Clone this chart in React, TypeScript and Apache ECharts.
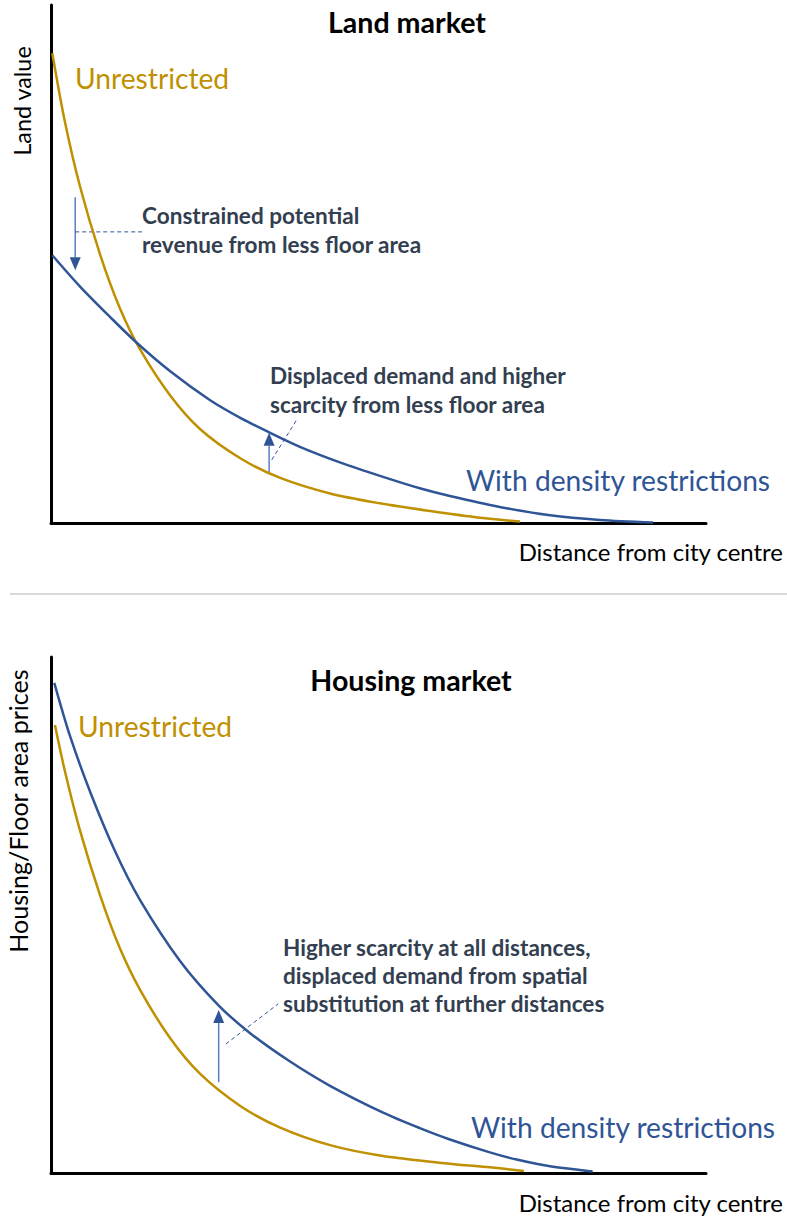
import React, { useEffect, useRef } from 'react';
import * as echarts from 'echarts';

// Distance (0-10) vs value (0-100)
const landUnrestricted: [number, number][] = [
  [0.02, 90.7], [0.21, 77.6], [0.44, 65.1], [0.75, 51.8], [1.05, 41.5], [1.36, 33.5],
  [1.82, 24.6], [2.27, 18.2], [2.89, 12.5], [3.50, 8.7], [4.26, 5.7], [5.02, 3.8],
  [5.79, 2.3], [6.55, 1.0], [7.16, 0.3],
];
const landRestricted: [number, number][] = [
  [0.02, 51.7], [0.44, 45.7], [0.90, 39.8], [1.30, 34.9], [1.82, 29.3], [2.43, 23.7],
  [2.89, 20.3], [3.33, 17.5], [3.80, 14.7], [4.41, 11.7], [5.07, 8.9], [5.63, 6.7],
  [6.09, 5.2], [6.85, 3.1], [7.62, 1.5], [8.38, 0.6], [9.19, 0.1],
];
const housingUnrestricted: [number, number][] = [
  [0.06, 86.8], [0.21, 78.0], [0.44, 66.5], [0.75, 53.8], [1.05, 43.6], [1.36, 35.5],
  [1.82, 26.1], [2.27, 19.3], [2.89, 13.0], [3.50, 8.8], [4.26, 5.4], [5.07, 3.3],
  [6.09, 1.8], [6.70, 1.1], [7.22, 0.4],
];
const housingRestricted: [number, number][] = [
  [0.05, 95.0], [0.29, 84.7], [0.60, 73.8], [0.98, 62.3], [1.36, 52.9], [1.97, 41.1],
  [2.55, 32.6], [3.04, 27.1], [3.65, 21.6], [4.26, 16.9], [5.07, 11.7], [5.63, 8.7],
  [6.09, 6.5], [6.70, 4.0], [7.11, 2.6], [7.62, 1.3], [8.27, 0.3],
];

const titles = ['Land market', 'Housing market'];
const yTitles = ['Land value', 'Housing/Floor area prices'];
const xTitle = 'Distance from city centre';
const seriesNames = ['Unrestricted', 'With density restrictions'];
const notes = [
  ['Constrained potential', 'revenue from less floor area'],
  ['Displaced demand and higher', 'scarcity from less floor area'],
  ['Higher scarcity at all distances,', 'displaced demand from spatial', 'substitution at further distances'],
];

// annotation anchors in data units
const arrows = [
  { grid: 0, x: 0.37, from: 62.9, to: 48.8 },
  { grid: 0, x: 3.33, from: 9.8, to: 17.4 },
  { grid: 1, x: 2.56, from: 17.6, to: 31.6 },
];
const leaders = [
  { grid: 0, a: [0.37, 56.2], b: [1.39, 56.2] },
  { grid: 0, a: [3.37, 12.2], b: [3.76, 20.1] },
  { grid: 1, a: [2.67, 25.0], b: [3.47, 32.8] },
];

const GOLD = '#BF9000';
const BLUE = '#2F5597';
const SHAFT = '#5B7FC0';
const NOTE = '#333F50';
const FONT = 'Lato';

function fit(text: string, weight: string, target: number) {
  const c = document.createElement('canvas').getContext('2d')!;
  c.font = `${weight} 100px ${FONT}`;
  return (100 * target) / c.measureText(text).width;
}

export default function App() {
  const ref = useRef<HTMLDivElement>(null);
  useEffect(() => {
    const chart = echarts.init(ref.current!, null, { renderer: 'svg' });
    const axisLine = { show: true, onZero: false, lineStyle: { color: '#000', width: 3 } };
    const hidden = { axisTick: { show: false }, axisLabel: { show: false }, splitLine: { show: false } };
    const lineSeries = (data: [number, number][], color: string, i: number) => ({
      type: 'line', xAxisIndex: i, yAxisIndex: i, data, smooth: 0.3,
      showSymbol: false, symbol: 'none', lineStyle: { color, width: 2.5 }, silent: true,
    });
    chart.setOption({
      animation: false,
      grid: [
        { left: 51, top: 5, width: 655, height: 518 },
        { left: 51, top: 657, width: 655, height: 516 },
      ],
      xAxis: [0, 1].map((i) => ({ type: 'value', gridIndex: i, min: 0, max: 10, axisLine, ...hidden })),
      yAxis: [0, 1].map((i) => ({ type: 'value', gridIndex: i, min: 0, max: 100, axisLine, ...hidden })),
      series: [
        lineSeries(landUnrestricted, GOLD, 0),
        lineSeries(landRestricted, BLUE, 0),
        lineSeries(housingUnrestricted, GOLD, 1),
        lineSeries(housingRestricted, BLUE, 1),
      ],
    });

    const px = (g: number, pt: number[]) => chart.convertToPixel({ seriesIndex: g * 2 }, pt) as number[];
    const g: any[] = [];

    const titleSize = fit(titles[0], 'bold', 158);
    const xSize = fit(xTitle, 'normal', 265);
    const ySize0 = fit(yTitles[0], 'normal', 110);
    const ySize1 = fit(yTitles[1], 'normal', 284);
    const labSize = fit(seriesNames[1], 'normal', 305);
    const noteSize = fit(notes[2][2], 'bold', 322);

    const text = (t: string, x: number, y: number, o: any = {}) =>
      g.push({
        type: 'text', x, y, rotation: o.rotation || 0, silent: true,
        style: {
          text: t, fill: o.fill || '#000', fontSize: o.size, fontFamily: FONT,
          fontWeight: o.weight || 'normal', textAlign: o.align || 'left', verticalAlign: 'middle',
          lineHeight: o.lineHeight,
        },
      });

    text(titles[0], 407, 22, { size: titleSize, weight: 'bold', align: 'center' });
    text(titles[1], 411, 680, { size: titleSize, weight: 'bold', align: 'center' });
    text(yTitles[0], 22, 101, { size: ySize0, align: 'center', rotation: Math.PI / 2 });
    text(yTitles[1], 18, 811, { size: ySize1, align: 'center', rotation: Math.PI / 2 });
    text(xTitle, 783, 551, { size: xSize, align: 'right' });
    text(xTitle, 783, 1202, { size: xSize, align: 'right' });
    text(seriesNames[0], 75, 78, { size: labSize, fill: GOLD });
    text(seriesNames[0], 78, 726, { size: labSize, fill: GOLD });
    text(seriesNames[1], 466, 480, { size: labSize, fill: BLUE });
    text(seriesNames[1], 471, 1127, { size: labSize, fill: BLUE });
    text(notes[0].join('\n'), 142, 230, { size: noteSize, weight: 'bold', fill: NOTE, lineHeight: 29 });
    text(notes[1].join('\n'), 270, 390, { size: noteSize, weight: 'bold', fill: NOTE, lineHeight: 29 });
    text(notes[2].join('\n'), 283, 975, { size: noteSize, weight: 'bold', fill: NOTE, lineHeight: 28 });

    arrows.forEach((a) => {
      const p0 = px(a.grid, [a.x, a.from]);
      const p1 = px(a.grid, [a.x, a.to]);
      const dir = p1[1] > p0[1] ? 1 : -1;
      const hl = 13;
      g.push({
        type: 'line', silent: true,
        shape: { x1: p0[0], y1: p0[1], x2: p1[0], y2: p1[1] - dir * hl },
        style: { stroke: SHAFT, lineWidth: 1.5 },
      });
      g.push({
        type: 'polygon', silent: true,
        shape: { points: [[p1[0], p1[1]], [p1[0] - 5.5, p1[1] - dir * hl], [p1[0] + 5.5, p1[1] - dir * hl]] },
        style: { fill: BLUE },
      });
    });
    leaders.forEach((l) => {
      const a = px(l.grid, l.a);
      const b = px(l.grid, l.b);
      g.push({
        type: 'line', silent: true,
        shape: { x1: a[0], y1: a[1], x2: b[0], y2: b[1] },
        style: { stroke: BLUE, lineWidth: 1, lineDash: [4, 3] },
      });
    });
    g.push({
      type: 'line', silent: true,
      shape: { x1: 10, y1: 594, x2: 787, y2: 594 },
      style: { stroke: '#D9D9D9', lineWidth: 2 },
    });

    chart.setOption({ graphic: g });
    return () => chart.dispose();
  }, []);
  return <div ref={ref} style={{ position: 'absolute', left: 0, top: 0, width: 787, height: 1221, background: '#fff' }} />;
}
